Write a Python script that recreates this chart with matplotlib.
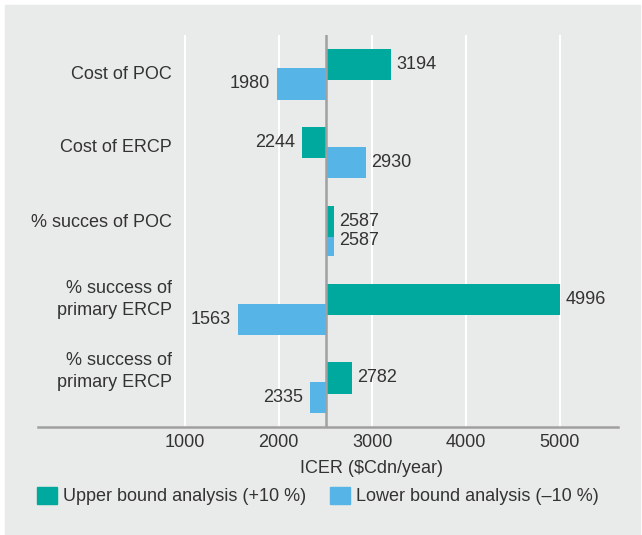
import matplotlib.pyplot as plt
from matplotlib.patches import Patch, Rectangle
import numpy as np

plt.rcParams['font.family'] = ['Liberation Sans', 'DejaVu Sans']

categories = ['Cost of POC', 'Cost of ERCP', '% succes of POC',
              '% success of\nprimary ERCP', '% success of\nprimary ERCP']
upper = [3194, 2244, 2587, 4996, 2782]
lower = [1980, 2930, 2587, 1563, 2335]
base = 2500
ticks = [1000, 2000, 3000, 4000, 5000]

green = '#00A99D'
blue = '#56B4E6'
bg = '#E9EAEA'
txt = '#333333'
axis_gray = '#A0A0A0'

fig = plt.figure(figsize=(6.42, 5.35), dpi=100)
fig.patch.set_facecolor('white')
fig.patches.append(Rectangle((5 / 642, 0), 635 / 642, 1 - 5 / 535,
                             transform=fig.transFigure, color=bg, zorder=-10))

ax = fig.add_axes([38 / 642, 1 - 427 / 535, 580 / 642, 392 / 535])
ax.set_facecolor(bg)

y = np.arange(len(categories))
h = 0.4
off = 0.125

ax.barh(y + off, np.array(lower) - base, left=base, height=h, color=blue, zorder=2)
ax.barh(y - off, np.array(upper) - base, left=base, height=h, color=green, zorder=2)
ax.axvline(base, color=axis_gray, lw=1.8, zorder=3)

for i in range(len(categories)):
    for val, yy in ((upper[i], y[i] - off), (lower[i], y[i] + off)):
        if val >= base:
            ax.annotate(str(val), (val, yy), xytext=(4, 0), textcoords='offset points',
                        ha='left', va='center', fontsize=13, color=txt)
        else:
            ax.annotate(str(val), (val, yy), xytext=(-5, 0), textcoords='offset points',
                        ha='right', va='center', fontsize=13, color=txt)

label_shift = [0, -0.07, -0.11, -0.13, -0.21]
for i, c in enumerate(categories):
    ax.text(860, y[i] + label_shift[i], c, ha='right', va='center', fontsize=13,
            color=txt, linespacing=1.4)

ax.set_xlim(-568, 5619)
ax.set_ylim(4.5, -0.5)
ax.set_xticks(ticks)
ax.set_xticklabels([str(t) for t in ticks])
ax.set_yticks([])
ax.tick_params(axis='x', length=0, pad=5, labelsize=13, labelcolor=txt)
ax.grid(axis='x', color='white', lw=1.5, zorder=1)
ax.set_axisbelow(True)
for s in ['top', 'right', 'left']:
    ax.spines[s].set_visible(False)
ax.spines['bottom'].set_color(axis_gray)
ax.spines['bottom'].set_linewidth(1.8)

ax.set_xlabel('ICER ($Cdn/year)', fontsize=13, color=txt)
ax.xaxis.set_label_coords((372 - 38) / 580, -0.085)

handles = [Patch(color=green), Patch(color=blue)]
fig.legend(handles, ['Upper bound analysis (+10 %)', 'Lower bound analysis (–10 %)'],
           loc='center left', bbox_to_anchor=(37 / 642, 1 - 496 / 535), ncol=2,
           frameon=False, fontsize=13, handlelength=1.1, handleheight=1.1,
           handletextpad=0.35, columnspacing=1.3, borderpad=0, borderaxespad=0,
           labelcolor=txt)

plt.savefig('out.png', dpi=100, facecolor=fig.get_facecolor())
